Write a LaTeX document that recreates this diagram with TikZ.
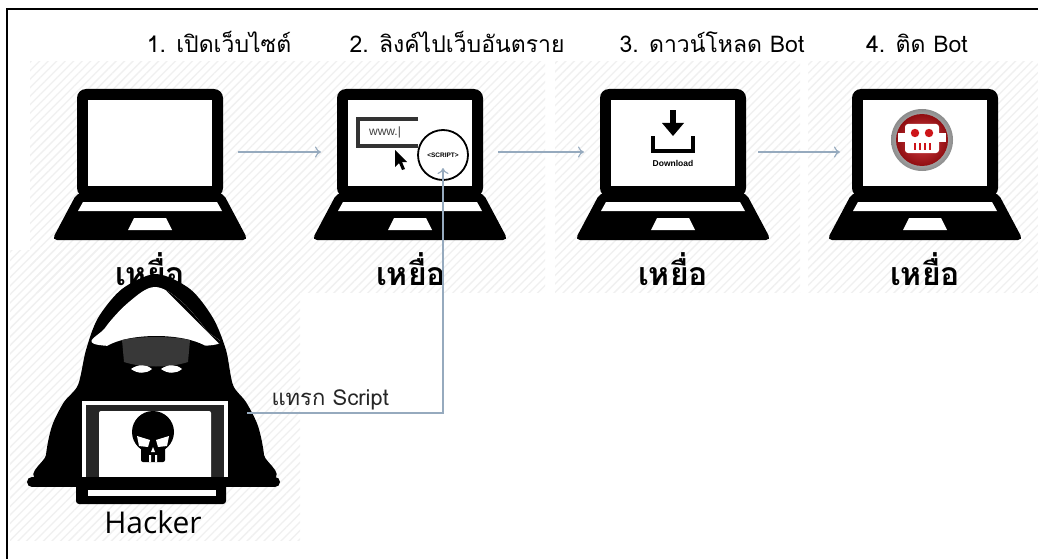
\documentclass[tikz,border=0pt]{standalone}
\usepackage{fontspec}
\newfontfamily\thai[Script=Thai]{Loma}
\newfontfamily\ui{Liberation Sans}
\newfontfamily\hk{Open Sans}
\usetikzlibrary{arrows.meta,positioning,patterns.meta}

\definecolor{flowc}{RGB}{150,170,190}
\definecolor{botred}{RGB}{205,20,25}

\tikzset{
  flow/.style={draw=flowc, line width=1.1, -{To[length=6,width=11]}},
  steptext/.style={font=\thai\fontsize{23}{23}\selectfont, anchor=base},
  victim/.style={font=\thai\bfseries\fontsize{32}{32}\selectfont, anchor=base},
  hatch/.style={pattern={Lines[angle=45,distance=6pt,line width=1.3pt]}, pattern color=black!6},
  % black laptop, origin at the middle of the screen
  laptop/.pic={
    \fill[rounded corners=9] (-73,-54) rectangle (73,54);
    \fill[rounded corners=5] (-73,50) -- (73,50) -- (98,97) -- (-98,97) -- cycle;
    \fill[white] (-62,-43) rectangle (62,43);
    \fill[white] (-67,59) -- (67,59) -- (72,68) -- (-72,68) -- cycle;
    \fill[white] (-16,75) -- (16,75) -- (22,87) -- (-22,87) -- cycle;
    \coordinate (-in) at (-73,9);
    \coordinate (-out) at (73,9);
  },
}

\begin{document}
\begin{tikzpicture}[x=1pt, y=-1pt]
  \useasboundingbox (0,0) rectangle (1038,559);
  \fill[white] (0,0) rectangle (1038,559);

  % faint striped backdrops
  \fill[hatch] (30,62) rectangle (300,292);
  \fill[hatch] (300,62) rectangle (545,292);
  \fill[hatch] (555,62) rectangle (800,292);
  \fill[hatch] (808,62) rectangle (1038,292);
  \fill[hatch] (10,250) rectangle (300,540);

  % frame
  \draw[line width=1.8] (7,559) -- (7,9) -- (1038,9);

  % steps
  \node[steptext] (t1) at (219,53) {1. เปิดเว็บไซต์};
  \node[steptext] (t2) at (457,53) {2. ลิงค์ไปเว็บอันตราย};
  \node[steptext] (t3) at (712,53) {3. ดาวน์โหลด Bot};
  \node[steptext] (t4) at (917,53) {4. ติด Bot};

  \pic (v1) at (150,143) {laptop};
  \pic (v2) at (410,143) {laptop};
  \pic (v3) at (673,143) {laptop};
  \pic (v4) at (925,143) {laptop};

  % web page with the injected script
  \draw[line width=3.5, black!80] (418,119) -- (358,119) -- (358,146) -- (418,146);
  \node[font=\ui\fontsize{12}{12}\selectfont, text=black!75] (www) at (385,132) {www.|};
  \fill (395,150) -- (395,167) -- (399,163) -- (402,170) -- (405,169) -- (402,162) -- (407,162) -- cycle;
  \node[circle, draw, line width=1.8, fill=white, minimum size=50, inner sep=0,
        font=\ui\bfseries\fontsize{6.5}{6.5}\selectfont] (sc) at (443,155) {<SCRIPT>};

  % download icon
  \fill (670,110) rectangle (676,124);
  \fill (662,123) -- (684,123) -- (673,136) -- cycle;
  \draw[line width=4.5] (653,136) -- (653,151) -- (693,151) -- (693,136);
  \node[font=\ui\bfseries\fontsize{8.5}{8.5}\selectfont] (dl) at (673,163) {Download};

  % bot badge
  \shade[inner color=white, outer color=black!45] (922,140) circle (31);
  \shade[inner color=botred!80!white, outer color=botred!70!black] (922,140) circle (26);
  \fill[white, rounded corners=3] (905,124) rectangle (939,153);
  \fill[white] (898,133) rectangle (946,142);
  \fill[botred] (915,133) circle (4.2) (929,133) circle (4.2);
  \foreach \i in {0,...,3}
    \fill[botred] (913.5+5*\i,143) rectangle ++(2.6,7);

  % flow between the victims
  \draw[flow, shorten <=15, shorten >=16] (v1-out) -- (v2-in);
  \draw[flow, shorten <=15, shorten >=16] (v2-out) -- (v3-in);
  \draw[flow, shorten <=12, shorten >=12] (v3-out) -- (v4-in);

  \node[victim] (l1) at (150,285) {เหยื่อ};
  \node[victim] (l2) at (411,285) {เหยื่อ};
  \node[victim] (l3) at (673,285) {เหยื่อ};
  \node[victim] (l4) at (925,285) {เหยื่อ};

  % hooded hacker behind a laptop
  \fill plot[smooth cycle, tension=.5] coordinates {(156,274) (190,289) (213,318) (226,350) (233,385)
    (246,402) (258,426) (264,455) (263,482) (47,482) (46,455) (52,426) (64,402) (78,385)
    (86,350) (98,318) (122,289)};
  \begin{scope}
    \clip plot[smooth cycle, tension=.6] coordinates {(155,287) (182,302) (206,330) (213,345)
      (99,345) (105,328) (129,302)};
    \fill[white] (90,280) rectangle (220,350);
    \foreach \d in {0,9,18}
      \draw[line width=3.5] (160+\d,282) -- (222+\d,344);
  \end{scope}
  \fill (98,354) .. controls (114,330) and (198,330) .. (215,354) -- cycle;
  \fill[black!78] (122,340) .. controls (140,336) and (172,336) .. (190,340)
    -- (188,362) .. controls (170,368) and (142,368) .. (124,362) -- cycle;
  \fill[white] (131,369) .. controls (138,364) and (146,364) .. (152,369)
    .. controls (146,374) and (138,374) .. cycle;
  \fill[white] (161,369) .. controls (168,364) and (176,364) .. (182,369)
    .. controls (176,374) and (168,374) .. cycle;
  \fill[white] (82,401) rectangle (228,484);
  \fill[black!85] (86,405) rectangle (224,484);
  \fill[white, rounded corners=2] (99,411) rectangle (211,480);
  % skull
  \fill (153,432) circle (21);
  \fill[rounded corners=2] (141,445) rectangle (165,462);
  \fill[white] (137,436) -- (150,440) -- (148,447) -- (139,446) -- cycle;
  \fill[white] (169,436) -- (156,440) -- (158,447) -- (167,446) -- cycle;
  \fill[white] (153,447) -- (151,452) -- (155,452) -- cycle;
  \fill[white] (149,455) rectangle (151,462) (155,455) rectangle (157,462);
  % desk and keyboard
  \draw[line width=10, line cap=round] (32,482) -- (275,482);
  \fill[rounded corners=3] (76,480) rectangle (226,504);
  \fill[white] (88,490) rectangle (216,496);
  \coordinate (hk-out) at (247,413);
  \node[font=\hk\fontsize{30}{30}\selectfont, anchor=base] (hk) at (153,533) {Hacker};

  % script injected into the page
  \draw[flow, shorten >=13] (hk-out) -| (sc.center);
  \node[font=\thai\fontsize{22}{22}\selectfont, text=black!85, anchor=base west] (inj) at (268,405) {แทรก Script};
\end{tikzpicture}
\end{document}
